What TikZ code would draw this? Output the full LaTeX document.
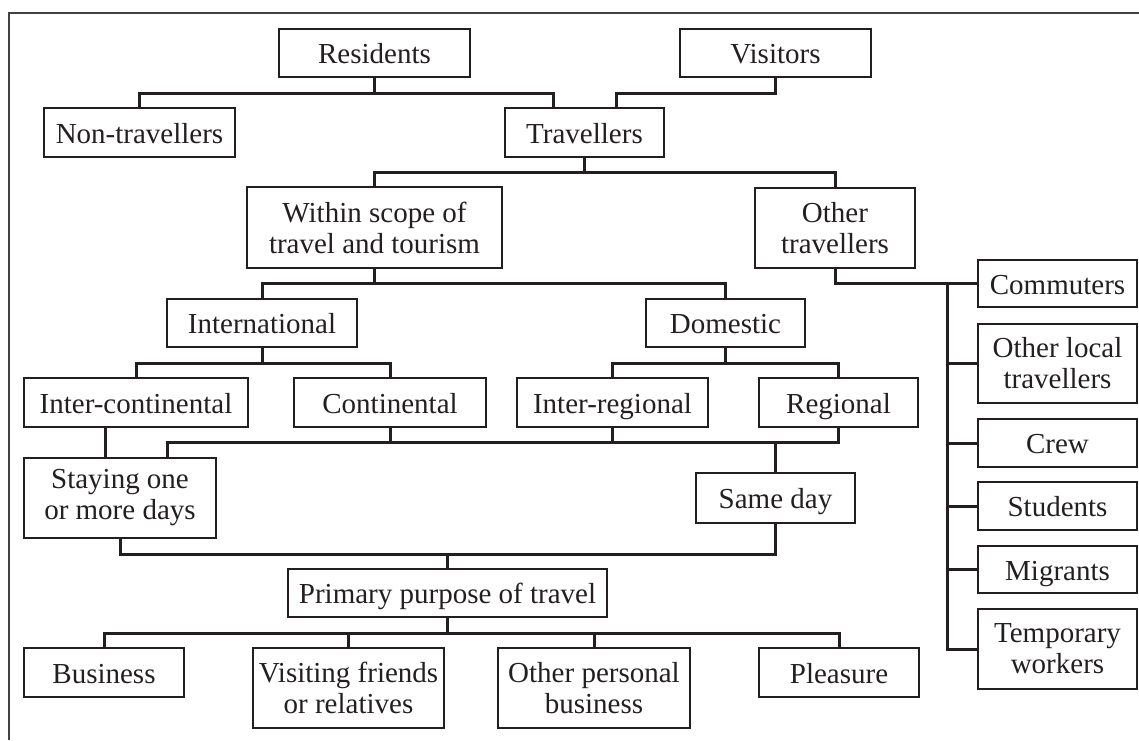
\documentclass[tikz,border=0pt]{standalone}
\usepackage{fontspec}
\setmainfont{Liberation Serif}
\definecolor{ink}{RGB}{35,31,32}
\begin{document}
\begin{tikzpicture}[x=1pt,y=-1pt,
  box/.style={draw=ink,line width=2pt,inner sep=0pt,outer sep=0pt,align=center,
    text=ink,font=\fontsize{29}{31}\selectfont},
  one/.style={box,text height=21pt,text depth=0pt},
  conn/.style={draw=ink,line width=3pt},
  frame/.style={draw=ink!85,line width=1.3pt}]
\useasboundingbox (0,0) rectangle (1139,740);
\draw[frame] (9,740) -- (9,13) -- (1139,13);
% nodes
\node[one,minimum width=191,minimum height=48] (res) at (374.5,53) {Residents};
\node[one,minimum width=191,minimum height=48] (vis) at (775.5,53) {Visitors};
\node[one,minimum width=191,minimum height=49] (nontrav) at (139.5,132.5) {Non-travellers};
\node[one,minimum width=159,minimum height=49] (trav) at (584.5,132.5) {Travellers};
\node[box,minimum width=255,minimum height=81] (wst) at (374.5,227.5) {Within scope of\\travel and tourism};
\node[box,minimum width=160,minimum height=80] (oth) at (835,228) {Other\\travellers};
\node[one,minimum width=190,minimum height=48] (intl) at (262,323) {International};
\node[one,minimum width=159,minimum height=48] (dom) at (725.5,323) {Domestic};
\node[one,minimum width=224,minimum height=49] (ic) at (136,402.5) {Inter-continental};
\node[one,minimum width=192,minimum height=49] (cont) at (390,402.5) {Continental};
\node[one,minimum width=191,minimum height=49] (ir) at (612.5,402.5) {Inter-regional};
\node[one,minimum width=159,minimum height=49] (reg) at (838.5,402.5) {Regional};
\node[box,minimum width=192,minimum height=80] (stay) at (120,498) {Staying one\\or more days};
\node[one,minimum width=159,minimum height=50] (sd) at (775.5,498) {Same day};
\node[one,minimum width=319,minimum height=48] (ppt) at (447.5,593) {Primary purpose of travel};
\node[one,minimum width=160,minimum height=49] (bus) at (104,672.5) {Business};
\node[box,minimum width=191,minimum height=80] (vfr) at (348.5,688) {Visiting friends\\or relatives};
\node[box,minimum width=192,minimum height=80] (opb) at (594,688) {Other personal\\business};
\node[one,minimum width=160,minimum height=49] (pl) at (839,672.5) {Pleasure};
\node[one,minimum width=159,minimum height=47] (comm) at (1057.5,283.5) {Commuters};
\node[box,minimum width=159,minimum height=79] (olt) at (1057.5,363.5) {Other local\\travellers};
\node[one,minimum width=159,minimum height=48] (crew) at (1057.5,443) {Crew};
\node[one,minimum width=159,minimum height=48] (stud) at (1057.5,506) {Students};
\node[one,minimum width=159,minimum height=47] (mig) at (1057.5,569.5) {Migrants};
\node[box,minimum width=159,minimum height=80] (tw) at (1057.5,649) {Temporary\\workers};
% connectors
\draw[conn] (res.south) |- (nontrav.north |- 0,93) -- (nontrav.north);
\draw[conn] (res.south |- 0,93) -| (trav.north -| 553,0);
\draw[conn] (vis.south) |- (616,93) -- (trav.north -| 616,0);
\draw[conn] (trav.south) -- (trav.south |- 0,172);
\draw[conn] (wst.north) |- (oth.north |- 0,172) -- (oth.north);
\draw[conn] (wst.south) -- (wst.south |- 0,283);
\draw[conn] (intl.north) |- (dom.north |- 0,283) -- (dom.north);
\coordinate (ob) at (947,283);
\draw[conn] (oth.south) |- (comm.west);
\draw[conn] (ob) |- (olt.west);
\draw[conn] (ob) |- (crew.west);
\draw[conn] (ob) |- (stud.west);
\draw[conn] (ob) |- (mig.west);
\draw[conn] (ob) |- (tw.west);
\draw[conn] (intl.south) -- (intl.south |- 0,363);
\draw[conn] (ic.north) |- (cont.north |- 0,363) -- (cont.north);
\draw[conn] (dom.south) -- (dom.south |- 0,363);
\draw[conn] (ir.north) |- (reg.north |- 0,363) -- (reg.north);
\draw[conn] (ic.south -| 105,0) -- (stay.north -| 105,0);
\draw[conn] (stay.north -| 167,0) |- (reg.south |- 0,442) -- (reg.south);
\draw[conn] (cont.south) -- (cont.south |- 0,442);
\draw[conn] (ir.south) -- (ir.south |- 0,442);
\draw[conn] (sd.north) -- (sd.north |- 0,442);
\draw[conn] (stay.south -| 120,0) |- (sd.south |- 0,554) -- (sd.south);
\draw[conn] (ppt.north) -- (ppt.north |- 0,554);
\draw[conn] (ppt.south) -- (ppt.south |- 0,633);
\draw[conn] (bus.north) |- (pl.north |- 0,633) -- (pl.north);
\draw[conn] (vfr.north) -- (vfr.north |- 0,633);
\draw[conn] (opb.north) -- (opb.north |- 0,633);
\end{tikzpicture}
\end{document}
